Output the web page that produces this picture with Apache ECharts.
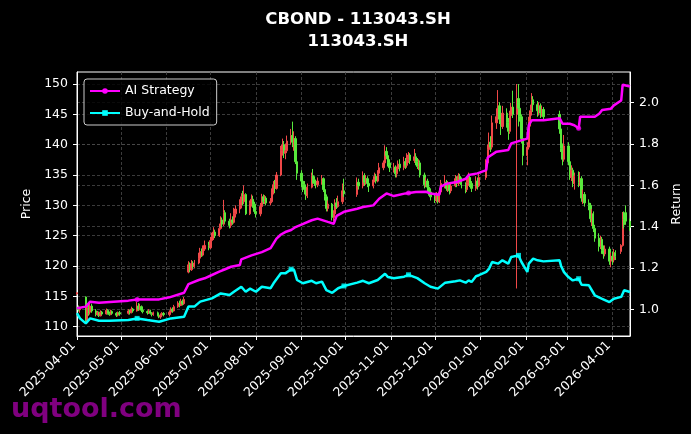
<!DOCTYPE html>
<html>
<head>
<meta charset="utf-8">
<title>CBOND - 113043.SH</title>
<script src="https://cdn.jsdelivr.net/npm/echarts@6/dist/echarts.min.js"></script>
<style>
  html, body { margin: 0; padding: 0; background: #000; }
  #chart { width: 691px; height: 434px; }
</style>
</head>
<body>
<div id="chart"></div>
<script>
/* =====================================================
   CBOND 113043.SH — daily candles (left axis, price)
   + AI strategy / buy-and-hold return lines (right axis)
   x axis is a plain value axis in ms (month ticks are custom)
   ===================================================== */

// ---- axis ticks ----
const MONTH_TICKS = [
  "2025-04-01", "2025-05-01", "2025-06-01", "2025-07-01", "2025-08-01",
  "2025-09-01", "2025-10-01", "2025-11-01", "2025-12-01", "2026-01-01",
  "2026-02-01", "2026-03-01", "2026-04-01"
];
const PRICE_TICKS = [110, 115, 120, 125, 130, 135, 140, 145, 150];
const RETURN_TICKS = [1.0, 1.2, 1.4, 1.6, 1.8, 2.0];

const X_START = "2025-04-01";
const X_END = "2026-04-13";

// weekdays the exchange was closed
const HOLIDAYS = [
  "2025-04-04", "2025-05-01", "2025-05-02", "2025-05-05", "2025-06-02",
  "2025-10-01", "2025-10-02", "2025-10-03", "2025-10-06", "2025-10-07", "2025-10-08",
  "2026-01-01", "2026-01-02",
  "2026-02-16", "2026-02-17", "2026-02-18", "2026-02-19", "2026-02-20", "2026-02-23",
  "2026-04-06"
];

// ---- daily candles, one row per trading day: [open, close, low, high] ----
const apr25 = [
  [115.4,115.6,115.3,115.7],[113.2,112.8,112.5,113.5],[112.8,112.9,112.3,113.3],[114.9,110.8,110.6,115.0],
  [111.0,113.2,110.8,113.5],[113.2,112.2,111.8,113.8],[112.4,113.4,112.0,114.2],[113.4,112.6,112.3,113.8],
  [112.6,112.0,111.7,112.9],[112.0,112.3,111.8,112.6],[112.3,111.8,111.6,112.5],[111.8,112.4,111.7,112.7],
  [112.4,112.1,111.9,112.6],[112.1,112.7,112.0,113.0],[112.7,112.2,112.0,112.9],[112.2,112.0,111.8,112.5],
  [112.0,112.5,111.9,112.8],[112.5,112.2,112.0,112.7],[112.2,111.9,111.6,112.4],[111.9,112.3,111.7,112.5],
  [112.3,112.1,111.8,112.6]
];
const may25 = [
  [112.2,112.6,112.0,112.9],[112.6,112.3,112.0,112.8],[112.3,112.9,112.2,113.3],[112.9,112.6,112.3,113.1],
  [112.6,113.4,112.5,114.1],[113.4,112.9,112.6,113.9],[112.9,113.3,112.7,113.8],[113.3,112.7,112.4,113.5],
  [112.7,112.5,112.2,112.9],[112.5,112.3,112.0,112.7],[112.3,112.6,112.1,112.9],[112.6,112.2,112.0,112.8],
  [112.2,112.0,111.7,112.4],[112.0,112.3,111.8,112.5],[112.3,111.9,111.7,112.5],[111.9,111.6,111.4,112.1],
  [111.6,111.9,111.3,112.2],[111.9,112.2,111.6,112.4],[112.2,112.0,111.7,112.4]
];
const jun25 = [
  [112.0,112.4,111.7,112.7],[112.4,112.9,112.2,113.2],[112.9,112.6,112.3,113.2],[112.6,113.3,112.5,113.6],
  [113.3,113.9,113.1,114.2],[113.9,113.5,113.2,114.3],[113.5,114.2,113.4,114.6],[114.2,113.8,113.5,114.5],
  [113.8,114.5,113.6,114.9],[119.0,120.2,118.8,120.8],[120.2,119.4,119.0,120.6],[119.4,120.4,119.2,121.0],
  [120.4,119.9,119.6,120.8],[119.9,120.5,119.7,121.0],[120.5,121.3,120.3,122.2],[121.3,122.4,121.0,123.0],
  [122.4,121.8,121.5,122.9],[121.8,122.8,121.6,123.4],[122.8,123.4,122.5,124.2],[123.4,123.0,122.6,124.0]
];
const jul25 = [
  [123.0,124.2,122.8,124.8],[124.2,124.8,123.8,125.5],[124.8,125.6,124.3,126.4],[125.6,125.0,124.6,126.0],
  [125.0,126.2,124.8,127.0],[126.2,127.6,126.0,128.2],[127.6,126.9,126.4,128.0],[126.9,128.8,126.6,130.9],
  [128.8,127.4,127.0,129.2],[127.4,126.7,126.2,127.8],[126.7,127.6,126.3,128.7],[127.6,127.2,126.8,128.2],
  [127.2,128.6,127.0,129.6],[128.6,129.4,128.0,130.0],[129.4,130.0,128.7,131.0],[130.0,131.4,129.5,132.0],
  [131.4,130.6,130.0,132.4],[130.6,131.8,130.2,133.3],[131.8,128.6,128.4,132.0],[128.6,130.3,128.4,130.8],
  [130.3,131.0,129.8,131.8],[131.0,130.2,129.6,131.6],[130.2,129.0,128.6,130.6]
];
const aug25 = [
  [129.0,128.6,128.0,129.6],[128.6,129.8,128.2,130.4],[129.8,131.4,129.5,131.9],[131.4,130.6,130.2,131.8],
  [130.6,131.2,130.2,131.7],[131.2,130.4,130.0,131.5],[130.4,130.6,130.0,131.2],[130.6,132.2,130.5,132.8],
  [132.2,133.4,131.8,134.0],[133.4,132.8,132.0,134.2],[132.8,135.0,132.6,135.5],[135.0,139.1,134.8,139.8],
  [139.1,140.0,138.2,141.0],[140.0,138.6,137.8,140.6],[138.6,139.0,137.6,140.2],[139.0,140.6,138.6,141.5],
  [140.6,141.5,140.0,142.6],[141.5,140.4,139.6,143.8],[140.4,141.0,139.0,142.2],[141.0,137.2,136.8,141.4],
  [137.2,135.3,134.2,138.0]
];
const sep25 = [
  [135.3,134.0,133.0,135.8],[134.0,133.4,132.2,134.6],[133.4,132.6,131.8,134.0],[132.6,131.6,130.9,133.2],
  [131.6,133.0,131.2,133.6],[133.0,134.9,132.8,135.4],[134.9,134.2,133.6,136.0],[134.2,133.6,133.2,134.8],
  [133.6,133.4,132.8,134.2],[133.4,134.0,133.0,134.6],[134.0,134.4,133.4,135.0],[134.4,132.6,132.2,134.6],
  [132.6,131.4,130.8,133.0],[131.4,129.5,129.0,131.8],[129.5,130.2,129.0,130.8],[130.2,128.0,127.5,130.4],
  [128.0,128.6,127.4,129.2],[128.6,130.4,128.2,131.0],[130.4,129.8,129.4,131.2],[129.8,130.6,129.6,131.6],
  [130.6,132.4,130.2,133.6],[132.4,131.9,131.4,134.4]
];
const oct25 = [
  [131.8,133.8,131.4,134.6],[133.8,133.2,132.6,134.4],[133.2,134.9,132.8,135.6],[134.9,133.8,133.2,135.3],
  [133.8,134.4,133.4,135.0],[134.4,133.6,133.0,134.8],[133.6,133.2,132.2,134.0],[133.2,134.2,132.8,134.8],
  [134.2,134.8,133.8,135.4],[134.8,134.0,133.6,135.2],[134.0,135.3,133.8,135.8],[135.3,136.2,135.0,137.0],
  [136.2,137.0,135.8,137.4],[137.0,138.9,136.6,139.9],[138.9,138.2,137.6,139.6],[138.2,137.0,136.4,138.6],
  [137.0,136.2,135.5,137.6]
];
const nov25 = [
  [136.2,136.3,135.4,137.0],[136.3,135.2,134.6,136.6],[135.2,136.0,134.6,136.4],[136.0,136.8,135.6,137.4],
  [136.8,136.2,135.6,137.6],[136.2,137.2,135.8,138.0],[137.2,136.6,136.0,137.8],[136.6,137.6,136.2,138.6],
  [137.6,138.3,137.0,138.8],[138.3,137.4,136.8,138.6],[137.4,138.0,137.0,139.3],[138.0,137.2,136.6,138.6],
  [137.2,136.4,136.0,137.8],[136.4,137.0,135.8,137.6],[137.0,135.0,134.6,137.4],[135.0,133.4,132.8,135.4],
  [133.4,134.0,133.0,134.6],[134.0,133.0,132.2,134.4],[133.0,132.2,131.6,133.6],[132.2,131.4,130.8,132.8]
];
const dec25 = [
  [131.4,130.8,130.4,132.0],[130.8,131.6,130.5,132.2],[131.6,130.6,130.3,132.0],[130.6,132.2,130.4,132.8],
  [132.2,133.6,131.8,134.2],[133.6,133.8,132.8,135.0],[133.8,132.8,132.4,134.2],[132.8,133.4,132.2,134.0],
  [133.4,132.4,131.8,133.8],[132.4,133.2,132.0,133.8],[133.2,134.4,133.0,135.0],[134.4,133.6,133.0,134.8],
  [133.6,134.8,133.2,135.3],[134.8,134.2,133.6,135.2],[134.2,133.4,132.8,134.6],[133.4,132.6,132.0,133.8],
  [132.6,133.8,132.2,134.4],[133.8,134.6,133.2,135.4],[134.6,133.6,133.0,135.0],[133.6,132.8,132.2,134.0],
  [132.8,134.0,132.4,134.8],[134.0,133.2,132.6,134.6],[133.2,134.6,133.0,135.4]
];
const jan26 = [
  [134.6,137.0,134.2,137.6],[137.0,139.2,136.6,140.0],[139.2,140.4,138.6,142.0],[140.4,139.6,138.8,141.4],
  [139.6,143.6,139.2,144.8],[143.6,144.6,142.6,146.0],[144.6,146.4,143.6,149.0],[146.4,144.2,143.4,147.0],
  [144.2,143.0,141.6,145.0],[143.0,145.2,142.6,146.4],[145.2,143.6,142.8,146.0],[143.6,142.2,140.8,144.4],
  [142.2,144.8,141.8,145.6],[144.8,146.2,144.2,146.9],[146.2,145.0,144.4,148.9],[145.0,147.6,116.3,150.0],
  [147.6,146.0,143.0,150.0],[146.0,144.6,143.8,146.8],[144.6,141.0,140.2,145.0],[141.0,138.2,136.6,141.6]
];
const feb26 = [
  [138.2,139.6,136.6,140.4],[139.6,143.8,139.2,144.6],[143.8,145.6,143.0,146.6],[145.6,147.4,144.8,148.5],
  [147.4,146.6,145.4,148.0],[146.6,145.6,144.6,147.2],[145.6,146.4,144.8,147.0],[146.4,145.2,144.4,146.8],
  [145.2,145.8,144.6,146.4],[145.8,144.6,144.2,146.2],[145.0,142.6,141.8,145.6],[142.6,139.4,138.8,143.0],
  [139.4,137.6,136.6,140.2],[137.6,139.8,137.2,141.6]
];
const mar26 = [
  [139.8,137.2,136.6,140.4],[137.2,134.6,134.2,138.0],[134.6,135.8,134.0,136.6],[135.8,133.6,133.0,136.2],
  [133.6,134.8,132.6,135.4],[134.8,133.8,133.0,135.6],[133.8,134.4,133.2,135.5],[134.4,131.2,130.6,134.8],
  [131.2,131.8,130.2,132.6],[131.8,130.4,129.8,132.2],[130.4,130.0,129.2,131.0],[130.0,127.8,127.2,130.4],
  [127.8,128.6,126.6,129.4],[128.6,126.2,125.6,129.0],[126.2,124.6,124.0,126.8],[124.6,123.2,122.4,125.4],
  [123.2,124.4,122.8,125.0],[124.4,122.6,122.0,124.8],[122.6,122.0,121.2,123.4],[122.0,122.8,121.6,123.4],
  [122.8,120.8,120.2,123.2],[120.8,121.6,119.8,122.2]
];
const apr26 = [
  [121.6,121.0,120.2,122.4],[121.0,122.2,120.6,122.8],[122.2,121.6,121.0,122.6],[122.4,123.4,122.0,123.6],
  [123.4,127.6,123.2,128.9],[127.6,126.8,126.2,129.0],[128.8,127.4,126.8,130.0],[127.4,126.4,125.8,127.8]
];

const CANDLE_MONTHS = [
  ["2025-04", apr25], ["2025-05", may25], ["2025-06", jun25], ["2025-07", jul25],
  ["2025-08", aug25], ["2025-09", sep25], ["2025-10", oct25], ["2025-11", nov25],
  ["2025-12", dec25], ["2026-01", jan26], ["2026-02", feb26], ["2026-03", mar26],
  ["2026-04", apr26]
];

// ---- return lines (right axis): [date, value] ----
const aiStrategy = [
  ["2025-04-01",1.005],["2025-04-07",1.013],["2025-04-10",1.037],["2025-04-16",1.032],["2025-05-06",1.042],
  ["2025-05-12",1.048],["2025-05-27",1.048],["2025-06-03",1.058],["2025-06-13",1.080],["2025-06-16",1.122],
  ["2025-06-23",1.142],["2025-06-27",1.150],["2025-07-02",1.166],["2025-07-07",1.182],["2025-07-11",1.194],
  ["2025-07-15",1.206],["2025-07-21",1.214],["2025-07-22",1.242],["2025-07-29",1.261],["2025-08-05",1.277],
  ["2025-08-11",1.296],["2025-08-15",1.342],["2025-08-18",1.362],["2025-08-21",1.374],["2025-08-25",1.384],
  ["2025-08-28",1.398],["2025-09-01",1.410],["2025-09-08",1.431],["2025-09-12",1.439],["2025-09-19",1.423],
  ["2025-09-23",1.414],["2025-09-25",1.452],["2025-09-30",1.472],["2025-10-09",1.487],["2025-10-13",1.495],
  ["2025-10-20",1.503],["2025-10-24",1.535],["2025-10-29",1.561],["2025-11-03",1.548],["2025-11-11",1.561],
  ["2025-11-18",1.568],["2025-11-25",1.569],["2025-11-28",1.560],["2025-12-04",1.554],["2025-12-05",1.594],
  ["2025-12-09",1.608],["2025-12-16",1.616],["2025-12-22",1.632],["2025-12-24",1.650],["2025-12-30",1.658],
  ["2026-01-05",1.674],["2026-01-06",1.735],["2026-01-12",1.763],["2026-01-20",1.771],["2026-01-22",1.803],
  ["2026-01-30",1.820],["2026-02-02",1.826],["2026-02-03",1.891],["2026-02-05",1.915],["2026-02-13",1.915],
  ["2026-02-24",1.925],["2026-02-26",1.898],["2026-03-03",1.898],["2026-03-06",1.891],["2026-03-09",1.876],
  ["2026-03-10",1.932],["2026-03-20",1.932],["2026-03-23",1.947],["2026-03-25",1.965],["2026-03-31",1.971],
  ["2026-04-02",1.987],["2026-04-07",2.011],["2026-04-08",2.087],["2026-04-13",2.078]
];
const buyHold = [
  ["2025-04-01",0.981],["2025-04-03",0.956],["2025-04-07",0.932],["2025-04-10",0.956],["2025-04-16",0.945],
  ["2025-04-23",0.945],["2025-05-06",0.948],["2025-05-12",0.956],["2025-05-19",0.948],["2025-05-27",0.940],
  ["2025-06-04",0.956],["2025-06-13",0.964],["2025-06-16",1.013],["2025-06-20",1.013],["2025-06-24",1.037],
  ["2025-07-02",1.053],["2025-07-08",1.077],["2025-07-14",1.069],["2025-07-17",1.085],["2025-07-22",1.109],
  ["2025-07-25",1.085],["2025-07-28",1.100],["2025-08-01",1.085],["2025-08-05",1.109],["2025-08-11",1.102],
  ["2025-08-13",1.126],["2025-08-18",1.174],["2025-08-19",1.182],["2025-08-21",1.174],["2025-08-25",1.194],
  ["2025-08-27",1.190],["2025-08-29",1.142],["2025-09-02",1.126],["2025-09-08",1.138],["2025-09-11",1.126],
  ["2025-09-15",1.134],["2025-09-18",1.093],["2025-09-22",1.080],["2025-09-26",1.102],["2025-09-30",1.113],
  ["2025-10-09",1.129],["2025-10-13",1.138],["2025-10-17",1.126],["2025-10-23",1.142],["2025-10-28",1.172],
  ["2025-10-30",1.156],["2025-11-03",1.150],["2025-11-10",1.158],["2025-11-13",1.167],["2025-11-19",1.151],
  ["2025-11-24",1.126],["2025-11-28",1.109],["2025-12-03",1.100],["2025-12-08",1.129],["2025-12-15",1.136],
  ["2025-12-18",1.140],["2025-12-22",1.129],["2025-12-24",1.140],["2025-12-26",1.132],["2025-12-29",1.160],
  ["2025-12-31",1.165],["2026-01-05",1.181],["2026-01-07",1.197],["2026-01-09",1.229],["2026-01-13",1.221],
  ["2026-01-16",1.237],["2026-01-20",1.221],["2026-01-22",1.253],["2026-01-27",1.261],["2026-01-29",1.229],
  ["2026-02-02",1.181],["2026-02-03",1.221],["2026-02-06",1.245],["2026-02-09",1.237],["2026-02-13",1.232],
  ["2026-02-24",1.237],["2026-02-25",1.210],["2026-02-27",1.180],["2026-03-02",1.156],["2026-03-05",1.140],
  ["2026-03-09",1.148],["2026-03-11",1.119],["2026-03-16",1.116],["2026-03-20",1.068],["2026-03-25",1.051],
  ["2026-03-30",1.035],["2026-04-02",1.051],["2026-04-07",1.060],["2026-04-09",1.092],["2026-04-13",1.084]
];

// trade markers drawn on the lines
const aiMarks = [["2025-05-12",1.048],["2025-11-13",1.563],["2026-03-09",1.876]];
const bhMarks = [["2025-05-12",0.956],["2025-08-25",1.194],["2025-09-30",1.113],["2025-11-13",1.167],["2026-01-27",1.261],["2026-03-09",1.148]];

/* ===================================================== */

const COL_UP = "#f04848";     // red = close above open
const COL_DOWN = "#58e83c";   // green = close below open
const COL_AI = "#ff00ff";
const COL_BH = "#00ffff";
const GRID_LINE = { color: "#4a4a4a", type: [3, 2], width: 0.8 };
const FONT = "DejaVu Sans";

function pad2(n) { return String(n).padStart(2, "0"); }

function fmtDay(ms) {
  const d = new Date(ms);
  return `${d.getFullYear()}-${pad2(d.getMonth() + 1)}-${pad2(d.getDate())}`;
}

function dayMs(s) {
  const [y, m, d] = s.split("-").map(Number);
  return new Date(y, m - 1, d).getTime();
}

function tradingDays(ym) {
  const [y, m] = ym.split("-").map(Number);
  const out = [];
  for (let d = 1; d <= 31; d++) {
    const dt = new Date(y, m - 1, d);
    if (dt.getMonth() !== m - 1) break;
    const wd = dt.getDay();
    if (wd === 0 || wd === 6) continue;
    const key = fmtDay(dt.getTime());
    if (HOLIDAYS.includes(key)) continue;
    out.push(dt.getTime());
  }
  return out;
}

function buildCandles() {
  const out = [];
  for (const [ym, rows] of CANDLE_MONTHS) {
    const days = tradingDays(ym);
    rows.forEach((r, i) => {
      if (days[i] != null) out.push([days[i], r[0], r[1], r[2], r[3]]);
    });
  }
  return out;
}

// [date string, value] -> [ms, value]
const toXY = (rows) => rows.map(([d, v]) => [dayMs(d), v]);

const chart = echarts.init(document.getElementById("chart"), null, { renderer: "canvas" });

const axisText = { color: "#ffffff", fontSize: 12.5, fontFamily: FONT };
const monthMs = MONTH_TICKS.map(dayMs);

chart.setOption({
  animation: false,
  backgroundColor: "#000000",
  textStyle: { fontFamily: FONT },

  title: {
    text: "CBOND - 113043.SH\n113043.SH",
    left: 353,
    top: 4,
    textAlign: "center",
    textStyle: { color: "#ffffff", fontSize: 16.5, fontWeight: "bold", lineHeight: 22, fontFamily: FONT }
  },

  legend: {
    data: ["AI Strategy", "Buy-and-Hold"],
    orient: "vertical",
    left: 84,
    top: 79,
    padding: [5, 7, 5, 5],
    itemGap: 8,
    itemWidth: 30,
    itemHeight: 7,
    itemTextGap: 9,
    backgroundColor: "rgba(0,0,0,0.8)",
    borderColor: "#cccccc",
    borderWidth: 1,
    borderRadius: 3,
    textStyle: { color: "#ffffff", fontSize: 12.5, lineHeight: 14, fontFamily: FONT }
  },

  grid: {
    left: 77, right: 61, top: 72, bottom: 98,
    show: true,
    borderColor: "#ffffff",
    borderWidth: 1
  },

  xAxis: {
    type: "value",
    min: dayMs(X_START),
    max: dayMs(X_END),
    scale: true,
    axisLine: { lineStyle: { color: "#ffffff" } },
    axisTick: { show: true, length: 4, lineStyle: { color: "#ffffff" }, customValues: monthMs },
    axisLabel: Object.assign({}, axisText, {
      rotate: 45,
      margin: 4,
      padding: [0, 5, 0, 0],
      customValues: monthMs,
      formatter: (v) => fmtDay(v)
    }),
    splitLine: { show: true, lineStyle: GRID_LINE }
  },

  yAxis: [
    {
      type: "value",
      position: "left",
      min: 108.47,
      max: 151.98,
      name: "Price",
      nameLocation: "middle",
      nameRotate: 90,
      nameGap: 41,
      nameTextStyle: axisText,
      axisLine: { show: true, lineStyle: { color: "#ffffff" } },
      axisTick: { show: true, length: 4, lineStyle: { color: "#ffffff" }, customValues: PRICE_TICKS },
      axisLabel: Object.assign({}, axisText, { margin: 9, customValues: PRICE_TICKS }),
      splitLine: { show: true, lineStyle: GRID_LINE }
    },
    {
      type: "value",
      position: "right",
      min: 0.8708,
      max: 2.1486,
      name: "Return",
      nameLocation: "middle",
      nameRotate: 90,
      nameGap: 36,
      nameTextStyle: axisText,
      axisLine: { show: true, lineStyle: { color: "#ffffff" } },
      axisTick: { show: true, length: 4, lineStyle: { color: "#ffffff" }, customValues: RETURN_TICKS },
      axisLabel: Object.assign({}, axisText, {
        margin: 9,
        customValues: RETURN_TICKS,
        formatter: (v) => v.toFixed(1)
      }),
      splitLine: { show: true, lineStyle: GRID_LINE }
    }
  ],

  graphic: [
    {
      type: "text",
      left: 11,
      top: 396,
      z: 100,
      style: { text: "uqtool.com", fill: "#800080", font: `bold 27px "${FONT}"` }
    }
  ],

  series: [
    {
      name: "Price",
      type: "candlestick",
      yAxisIndex: 0,
      data: buildCandles(),
      barWidth: 1.8,
      itemStyle: {
        color: COL_UP,
        color0: COL_DOWN,
        borderColor: COL_UP,
        borderColor0: COL_DOWN,
        borderWidth: 1
      }
    },
    {
      name: "AI Strategy",
      type: "line",
      yAxisIndex: 1,
      data: toXY(aiStrategy),
      symbol: "circle",
      showSymbol: false,
      color: COL_AI,
      lineStyle: { color: COL_AI, width: 2.5 },
      itemStyle: { color: COL_AI }
    },
    {
      name: "Buy-and-Hold",
      type: "line",
      yAxisIndex: 1,
      data: toXY(buyHold),
      symbol: "rect",
      showSymbol: false,
      color: COL_BH,
      lineStyle: { color: COL_BH, width: 2.5 },
      itemStyle: { color: COL_BH }
    },
    {
      type: "scatter",
      yAxisIndex: 1,
      data: toXY(aiMarks),
      symbol: "circle",
      symbolSize: 5,
      itemStyle: { color: COL_AI }
    },
    {
      type: "scatter",
      yAxisIndex: 1,
      data: toXY(bhMarks),
      symbol: "rect",
      symbolSize: 5,
      itemStyle: { color: COL_BH }
    }
  ]
});
</script>
</body>
</html>
